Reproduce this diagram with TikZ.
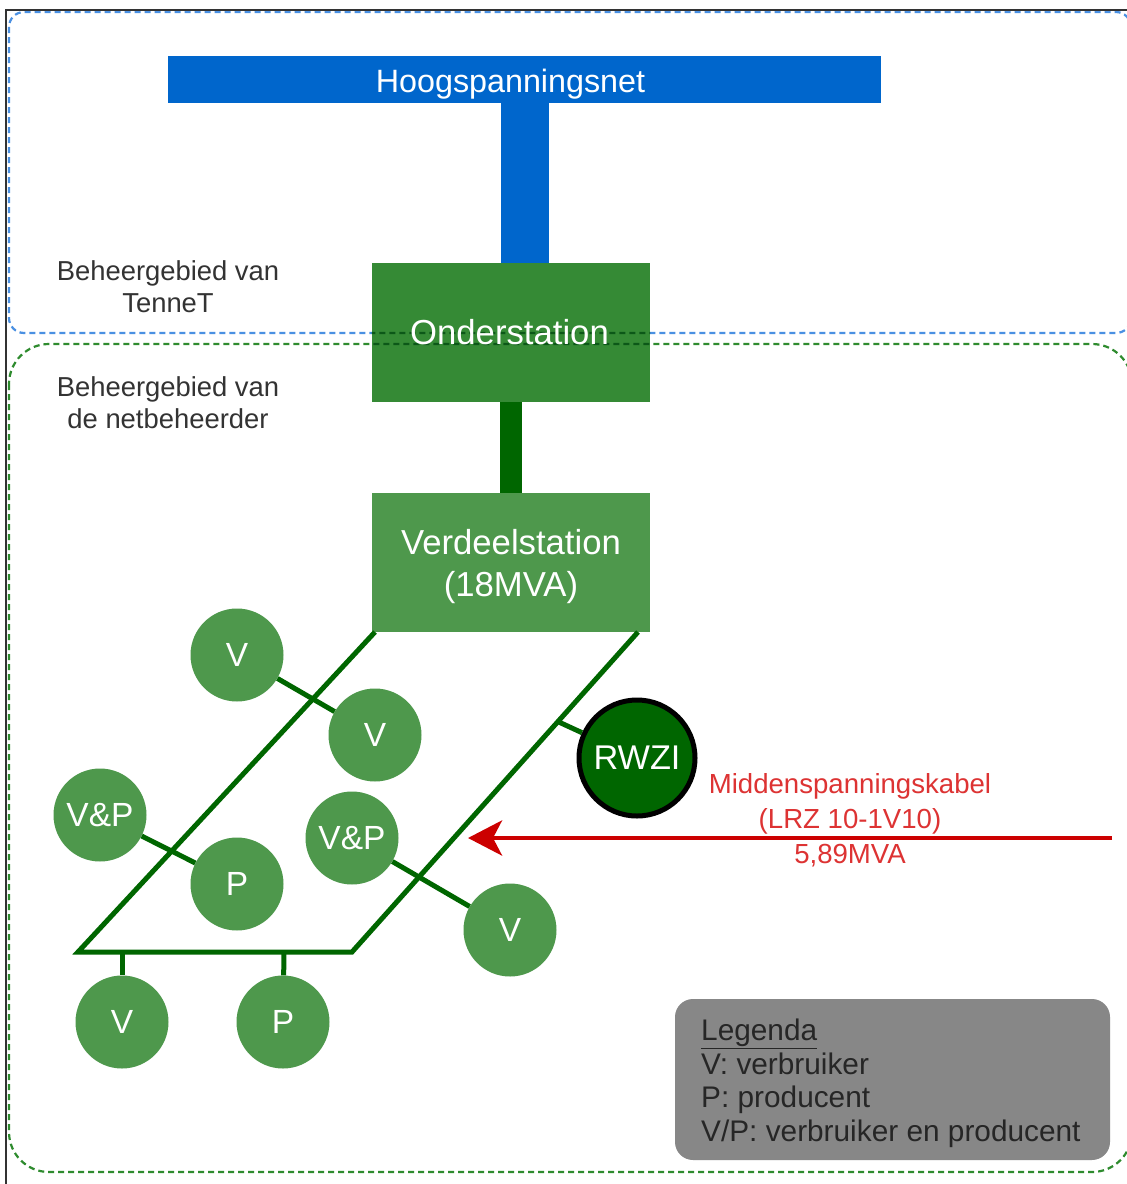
\documentclass[tikz,border=0pt]{standalone}
\usepackage{fontspec}
\setmainfont{Liberation Sans}
\usetikzlibrary{arrows.meta,calc}
\definecolor{hvblue}{HTML}{0066CC}
\definecolor{osgreen}{HTML}{358A35}
\definecolor{vsgreen}{HTML}{4E984C}
\definecolor{lngreen}{HTML}{006600}
\definecolor{areablue}{HTML}{4A90E2}
\definecolor{areagreen}{HTML}{2E8B2E}
\definecolor{arrred}{HTML}{CC0000}
\definecolor{txtred}{HTML}{DD3333}
\definecolor{leggrey}{HTML}{878787}
\definecolor{txtgrey}{HTML}{333333}
\definecolor{overdash}{HTML}{0C5818}
\begin{document}
\begin{tikzpicture}[x=1pt,y=-1pt,
  station/.style={minimum width=278pt, minimum height=139pt, inner sep=0pt, text=white, font=\fontsize{34.7}{42}\selectfont, align=center},
  cons/.style={circle, fill=vsgreen, minimum size=93pt, inner sep=0pt, text=white, font=\fontsize{33.5}{40}\selectfont},
  net/.style={draw=lngreen, line width=5pt},
  area/.style={dash pattern=on 6pt off 4pt, line width=2.2pt},
  lbl/.style={text=txtgrey, font=\fontsize{27.4}{32}\selectfont, align=center, inner sep=0pt},
]
\useasboundingbox (0,0) rectangle (1127,1184);
\fill[white] (0,0) rectangle (1127,1184);

% areas
\draw[area, draw=areablue, rounded corners=15pt] (9,12) rectangle (1131,333);
\draw[area, draw=areagreen, rounded corners=40pt] (9,344) rectangle (1132,1172);

% frame
\draw[line width=2pt, draw=black!80] (6,1184) -- (6,10) -- (1127,10);

% area labels
\node[lbl] (tennet) at (168,287) {Beheergebied van\\TenneT};
\node[lbl] (netb) at (168,402.5) {Beheergebied van\\de netbeheerder};

% high voltage grid
\node[fill=hvblue, minimum width=713pt, minimum height=47pt, inner sep=0pt] (hs) at (524.5,79.5) {};
\node[text=white, font=\fontsize{32.3}{36}\selectfont, anchor=base, inner sep=0pt] (hstext) at (510.5,92) {Hoogspanningsnet};

% stations
\node[station, fill=osgreen] (os) at (511,332.5) {};
\begin{scope}
  \clip (os.south west) rectangle (os.north east);
  \draw[area, draw=overdash, rounded corners=15pt] (9,12) rectangle (1131,333);
  \draw[area, draw=overdash, rounded corners=40pt] (9,344) rectangle (1132,1172);
\end{scope}
\node[text=white, font=\fontsize{34.7}{42}\selectfont, inner sep=0pt] (ostext) at (509.5,332.5) {Onderstation};
\node[station, fill=vsgreen] (vs) at (511,562.5) {};
\node[text=white, font=\fontsize{34.7}{42}\selectfont, align=center, inner sep=0pt] (vstext) at (511,567) {Verdeelstation\\(18MVA)};
\draw[hvblue, line width=48pt] (hs.south) -- (hs.south |- os.north);
\draw[lngreen, line width=22pt] (os.south) -- (vs.north);

% consumers / producers
\node[cons] (v1) at (237,655) {V};
\node[cons] (v2) at (375,735) {V};
\node[cons] (vp1) at (100,815) {V\&P};
\node[cons] (p1) at (237,884) {P};
\node[cons] (vp2) at (352,838) {V\&P};
\node[cons] (v3) at (510,930) {V};
\node[cons] (v4) at (122,1022) {V};
\node[cons] (p2) at (283,1022) {P};
\node[circle, draw=black, line width=5pt, fill=lngreen, minimum size=116pt, inner sep=0pt, text=white, font=\fontsize{34.3}{40}\selectfont] (rwzi) at (637,758) {RWZI};

% network
\coordinate (tl) at (375,632);
\coordinate (bl) at (78,952);
\coordinate (br) at (352,952);
\coordinate (tr) at (638,632);
\draw[net, line join=miter] (tl) -- (bl) -- (br) -- (tr);
\draw[net] (v1) -- (v2);
\draw[net] (vp1) -- (p1);
\draw[net] (vp2) -- (v3);
\coordinate (s1) at (122,952);
\coordinate (s2) at (284,952);
\draw[net] (s1) -- (v4);
\draw[net] (s2) -- (p2);
\coordinate (rj) at ($(br)!0.72!(tr)$);
\draw[net] (rj) -- (rwzi);

% medium voltage cable
\coordinate (ka) at (1112,838);
\coordinate (kb) at (468,838);
\draw[arrred, line width=4.5pt, -{Stealth[length=34pt,width=35pt,inset=9pt]}] (ka) -- (kb);
\node[text=txtred, font=\fontsize{27.6}{35}\selectfont, align=center, inner sep=0pt] (klbl) at (850,820) {Middenspanningskabel\\(LRZ 10-1V10)\\5,89MVA};

% legend
\node[fill=leggrey, rounded corners=18pt, minimum width=435pt, minimum height=161pt, inner sep=0pt] (leg) at (892.5,1079.5) {};
\node[anchor=north west, inner sep=0pt, align=left, text=black!85, font=\fontsize{29.8}{33.5}\selectfont] (legtxt) at (701,1019) {\underline{Legenda}\\V: verbruiker\\P: producent\\V/P: verbruiker en producent};
\end{tikzpicture}
\end{document}
